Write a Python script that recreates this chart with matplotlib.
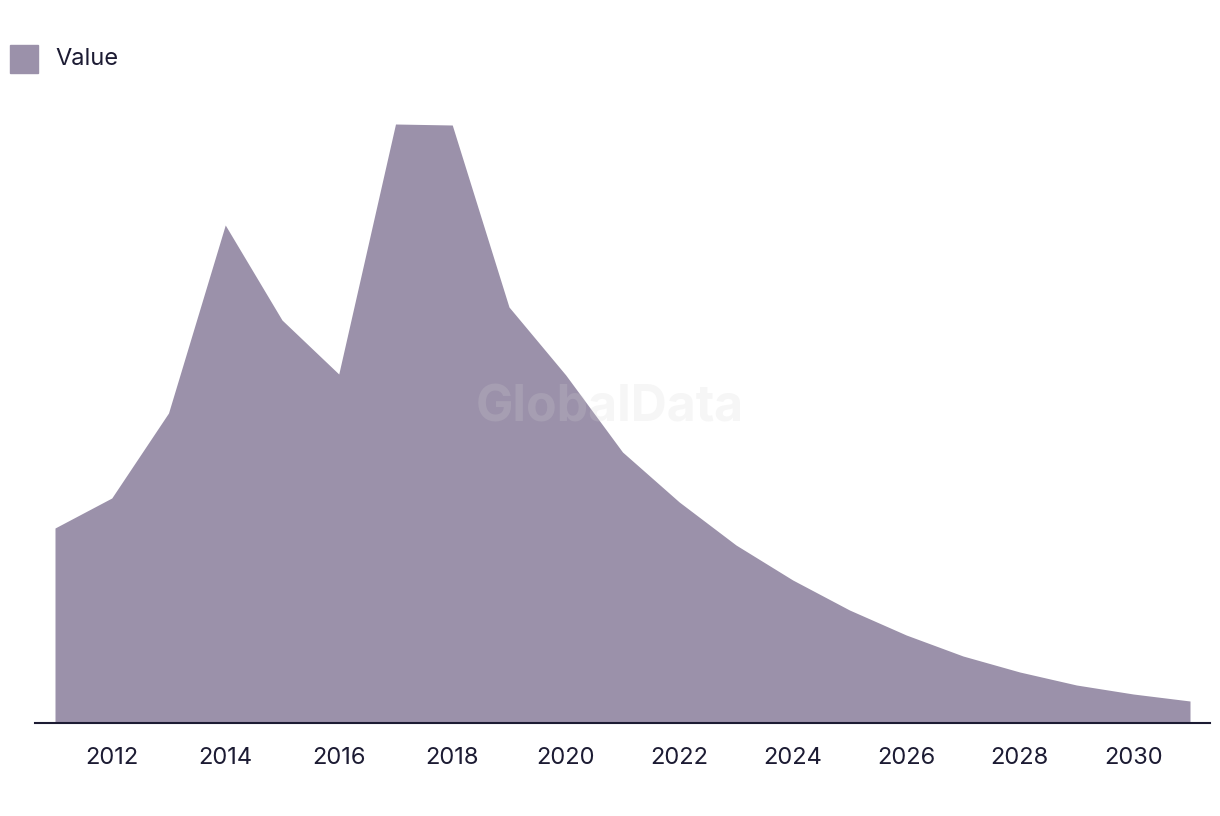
import matplotlib.pyplot as plt
from matplotlib.patches import Rectangle

plt.rcParams['font.family'] = ['Inter', 'DejaVu Sans']

# data (arbitrary units, no y scale shown)
years = list(range(2011, 2032))
values = [195, 225, 310, 498, 403, 349, 599, 598, 416, 348, 271,
          221, 178, 143, 113, 88, 67, 51, 38, 29, 22]
tick_years = list(range(2012, 2031, 2))
series_name = "Value"

fill_col = '#9b91aa'
ink = '#1c1b33'

fig = plt.figure(figsize=(12.2, 8.16), dpi=100)
ax = fig.add_axes([35 / 1220, 93 / 816, 1175 / 1220, 650 / 816])

ax.fill_between(years, values, 0, color=fill_col, linewidth=0)
ax.set_xlim(2011 - 20 / 56.75, 2031 + 20 / 56.75)
ax.set_ylim(0, 650)

for s in ['top', 'right', 'left']:
    ax.spines[s].set_visible(False)
ax.spines['bottom'].set_color(ink)
ax.spines['bottom'].set_linewidth(1.5)
ax.set_yticks([])
ax.set_xticks(tick_years)
ax.set_xticklabels([str(y) for y in tick_years], fontsize=17, color=ink)
ax.tick_params(axis='x', length=0, pad=17)

# watermark
fig.text(610 / 1220, 1 - 408 / 816, "GlobalData", fontsize=36, fontweight='bold',
         color='#d3d3d3', alpha=0.2, ha='center', va='center')

# legend
fig.patches.append(Rectangle((10 / 1220, 1 - 73 / 816), 28 / 1220, 28 / 816,
                             transform=fig.transFigure, color=fill_col))
fig.text(55 / 1220, 1 - 59 / 816, series_name, fontsize=17, color=ink,
         ha='left', va='center')

fig.savefig("out.png", dpi=100)
